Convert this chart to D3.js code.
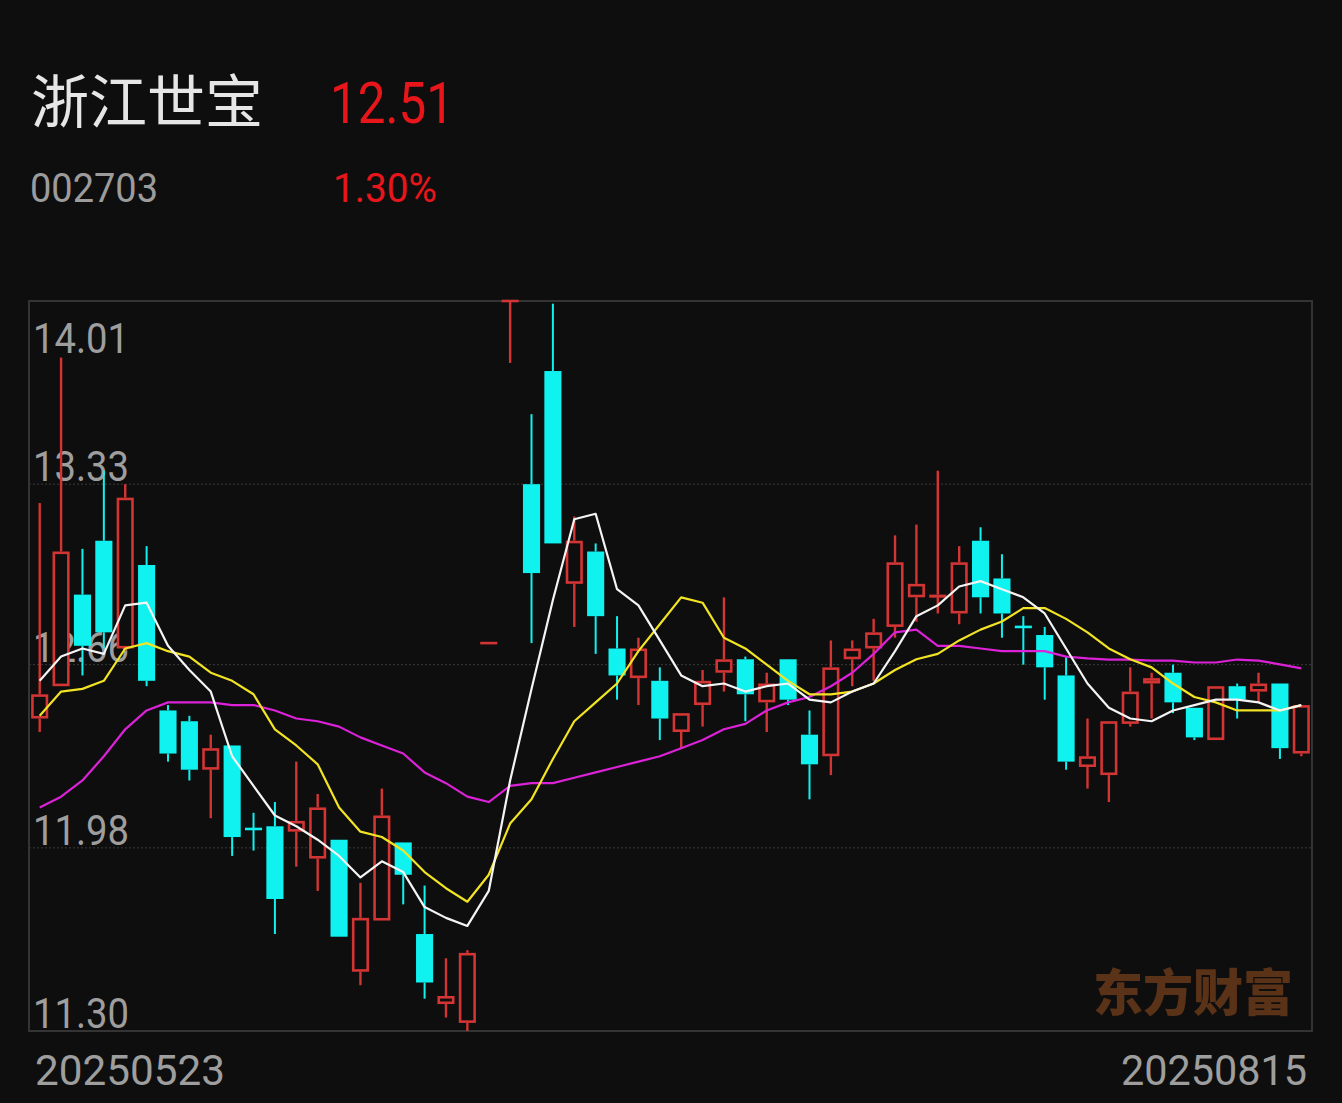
<!DOCTYPE html>
<html>
<head>
<meta charset="utf-8">
<script src="https://cdn.jsdelivr.net/npm/d3@7/dist/d3.min.js"></script>
<style>
  html, body { margin: 0; padding: 0; background: #0e0e0e; }
  svg { display: block; }
</style>
</head>
<body>
<svg id="chart" width="1342" height="1103"></svg>
<script>
// ---- data ----
const dates = [
  "20250523","20250526","20250527","20250528","20250529","20250530",
  "20250603","20250604","20250605","20250606","20250609","20250610","20250611","20250612","20250613",
  "20250616","20250617","20250618","20250619","20250620","20250623","20250624","20250625","20250626","20250627","20250630",
  "20250701","20250702","20250703","20250704","20250707","20250708","20250709","20250710","20250711",
  "20250714","20250715","20250716","20250717","20250718","20250721","20250722","20250723","20250724","20250725",
  "20250728","20250729","20250730","20250731",
  "20250801","20250804","20250805","20250806","20250807","20250808","20250811","20250812","20250813","20250814","20250815"
];
const openP  = [12.46,12.58,12.92,13.12,12.72,13.03,12.49,12.45,12.27,12.36,12.05,12.06,12.04,11.94,12.01,11.52,11.71,12.00,11.66,11.40,
                11.33,12.74,14.01,13.33,13.75,12.96,13.08,12.72,12.61,12.60,12.41,12.51,12.63,12.68,12.52,12.68,12.40,12.32,12.68,12.72,
                12.80,12.91,12.91,12.85,13.12,12.98,12.80,12.77,12.62,12.28,12.25,12.44,12.59,12.63,12.50,12.38,12.58,12.56,12.59,12.33];
const closeP = [12.55,13.08,12.73,12.78,13.28,12.60,12.33,12.27,12.35,12.02,12.05,11.79,12.08,12.13,11.65,11.72,12.10,11.88,11.48,11.43,
                11.59,12.74,14.01,13.00,13.11,13.12,12.84,12.62,12.72,12.46,12.48,12.60,12.68,12.55,12.59,12.53,12.29,12.65,12.72,12.78,
                13.04,12.96,12.92,13.04,12.91,12.85,12.80,12.65,12.30,12.32,12.45,12.56,12.61,12.52,12.39,12.58,12.53,12.59,12.35,12.51];
const highP  = [13.26,13.80,13.09,13.38,13.33,13.10,12.51,12.47,12.40,12.36,12.11,12.15,12.30,12.18,12.01,11.85,12.20,12.00,11.84,11.57,
                11.60,12.74,14.01,13.59,14.00,13.21,13.11,12.84,12.76,12.65,12.48,12.64,12.91,12.69,12.63,12.68,12.49,12.75,12.75,12.83,
                13.14,13.18,13.38,13.10,13.17,13.07,12.84,12.80,12.69,12.46,12.45,12.65,12.63,12.66,12.50,12.58,12.59,12.63,12.59,12.51];
const lowP   = [12.41,12.58,12.62,12.72,12.71,12.58,12.30,12.23,12.09,11.95,11.97,11.66,11.91,11.82,11.65,11.47,11.71,11.77,11.42,11.35,
                11.30,12.74,13.78,12.74,13.11,12.80,12.70,12.53,12.51,12.38,12.35,12.43,12.56,12.45,12.41,12.51,12.16,12.25,12.58,12.60,
                12.76,12.82,12.85,12.81,12.85,12.76,12.66,12.53,12.27,12.20,12.15,12.43,12.46,12.48,12.38,12.38,12.46,12.52,12.31,12.32];
const ma5  = [12.60,12.69,12.72,12.70,12.88,12.89,12.73,12.64,12.56,12.32,12.21,12.10,12.06,12.01,11.95,11.87,11.93,11.89,11.76,11.72,
              11.69,11.82,12.23,12.57,12.90,13.20,13.22,12.94,12.88,12.75,12.62,12.58,12.59,12.56,12.58,12.59,12.53,12.52,12.56,12.59,
              12.71,12.84,12.88,12.95,12.97,12.94,12.91,12.85,12.72,12.59,12.50,12.46,12.45,12.49,12.51,12.53,12.53,12.52,12.49,12.51];
const ma10 = [12.47,12.56,12.57,12.60,12.72,12.74,12.71,12.69,12.63,12.60,12.55,12.42,12.36,12.29,12.13,12.04,12.02,11.97,11.89,11.83,
              11.78,11.88,12.07,12.16,12.31,12.45,12.52,12.59,12.71,12.81,12.91,12.89,12.76,12.72,12.66,12.60,12.55,12.55,12.56,12.59,
              12.64,12.68,12.70,12.75,12.79,12.82,12.87,12.87,12.83,12.78,12.72,12.68,12.65,12.59,12.54,12.52,12.49,12.49,12.49,12.51];
const ma20 = [12.13,12.17,12.23,12.32,12.42,12.49,12.52,12.52,12.52,12.51,12.51,12.49,12.46,12.45,12.43,12.39,12.36,12.33,12.26,12.22,
              12.17,12.15,12.21,12.22,12.22,12.24,12.26,12.28,12.30,12.32,12.35,12.38,12.42,12.44,12.49,12.52,12.54,12.58,12.63,12.70,
              12.78,12.79,12.73,12.73,12.72,12.71,12.71,12.71,12.69,12.683,12.679,12.679,12.675,12.675,12.668,12.668,12.679,12.675,12.661,12.646];
const yTicks = [14.01, 13.33, 12.66, 11.98, 11.30];
const stockName = "浙江世宝";
const stockCode = "002703";
const lastPrice = "12.51";
const changePct = "1.30%";
const watermark = "东方财富";

// ---- layout ----
const W = 1342, H = 1103;
const plot = { left: 29, right: 1312, top: 301, bottom: 1031 };
const BG = "#0e0e0e";
const RED = "#d33434";
const CYAN = "#0ff2f0";

const svg = d3.select("#chart");
svg.append("rect").attr("width", W).attr("height", H).attr("fill", BG);

const x = d3.scaleBand().domain(dates).range([plot.left, plot.right]).paddingInner(0.2).paddingOuter(0.1);
const y = d3.scaleLinear().domain([yTicks[yTicks.length - 1], yTicks[0]]).range([plot.bottom, plot.top]);
const cx = d => x(d) + x.bandwidth() / 2;

// header
svg.append("text").attr("x", 31).attr("y", 123)
  .attr("font-family", "'Noto Sans CJK SC', sans-serif").attr("font-size", 58)
  .attr("fill", "#e6e6e6").text(stockName);
svg.append("text").attr("x", 330).attr("y", 123)
  .attr("font-family", "Roboto, sans-serif").attr("font-size", 57)
  .attr("textLength", 124).attr("lengthAdjust", "spacingAndGlyphs")
  .attr("fill", "#e8161b").text(lastPrice);
svg.append("text").attr("x", 30).attr("y", 202)
  .attr("font-family", "Roboto, sans-serif").attr("font-size", 41)
  .attr("textLength", 128).attr("lengthAdjust", "spacingAndGlyphs")
  .attr("fill", "#9c9c9c").text(stockCode);
svg.append("text").attr("x", 333).attr("y", 202)
  .attr("font-family", "Roboto, sans-serif").attr("font-size", 41)
  .attr("textLength", 104).attr("lengthAdjust", "spacingAndGlyphs")
  .attr("fill", "#e8161b").text(changePct);

// grid lines (inner ticks)
const g = svg.append("g");
g.selectAll("line.grid").data(yTicks.slice(1, -1)).enter().append("line")
  .attr("x1", plot.left).attr("x2", plot.right)
  .attr("y1", d => y(d)).attr("y2", d => y(d))
  .attr("stroke", "#3a3a3a").attr("stroke-width", 1).attr("stroke-dasharray", "2,2");

// frame
svg.append("rect").attr("x", plot.left).attr("y", plot.top)
  .attr("width", plot.right - plot.left).attr("height", plot.bottom - plot.top)
  .attr("fill", "none").attr("stroke", "#343434").attr("stroke-width", 2);

// watermark
svg.append("text").attr("x", 1093).attr("y", 1011)
  .attr("font-family", "'Noto Sans CJK SC', sans-serif").attr("font-weight", 900).attr("font-size", 50)
  .attr("fill", "#5a3217").text(watermark);

// y labels
svg.selectAll("text.ylab").data(yTicks).enter().append("text")
  .attr("x", 33)
  .attr("y", (d, i) => i === 0 ? y(d) + 52 : y(d) - 3)
  .attr("font-family", "Roboto, sans-serif").attr("font-size", 42)
  .attr("textLength", 96).attr("lengthAdjust", "spacingAndGlyphs")
  .attr("fill", "#9e9e9e").text(d => d.toFixed(2));

// x labels
svg.append("text").attr("x", 35).attr("y", 1085)
  .attr("font-family", "Roboto, sans-serif").attr("font-size", 42)
  .attr("textLength", 190).attr("lengthAdjust", "spacingAndGlyphs")
  .attr("fill", "#9e9e9e").text(dates[0]);
svg.append("text").attr("x", 1307).attr("y", 1085).attr("text-anchor", "end")
  .attr("font-family", "Roboto, sans-serif").attr("font-size", 42)
  .attr("textLength", 186).attr("lengthAdjust", "spacingAndGlyphs")
  .attr("fill", "#9e9e9e").text(dates[dates.length - 1]);

// candles
const candles = dates.map((d, i) => ({ d, o: openP[i], c: closeP[i], h: highP[i], l: lowP[i] }));
const cg = svg.append("g");
const bw = x.bandwidth();
const sw = 2.6;
candles.forEach(k => {
  const up = k.c >= k.o && !(k.c === k.o && false);
  const isUp = k.c > k.o || (k.c === k.o && (k.d === dates[21] || k.d === dates[22]));
  const col = isUp ? RED : CYAN;
  const top = y(Math.max(k.o, k.c)), bot = y(Math.min(k.o, k.c));
  const xc = cx(k.d);
  const ww = isUp ? 2.4 : 2;
  if (y(k.h) < top) cg.append("line").attr("x1", xc).attr("x2", xc).attr("y1", y(k.h)).attr("y2", top).attr("stroke", col).attr("stroke-width", ww);
  if (y(k.l) > bot) cg.append("line").attr("x1", xc).attr("x2", xc).attr("y1", bot).attr("y2", y(k.l)).attr("stroke", col).attr("stroke-width", ww);
  if (bot - top < 2) {
    cg.append("line").attr("x1", x(k.d)).attr("x2", x(k.d) + bw).attr("y1", (top + bot) / 2).attr("y2", (top + bot) / 2)
      .attr("stroke", col).attr("stroke-width", 2.6);
  } else if (isUp) {
    cg.append("rect").attr("x", x(k.d) + sw / 2).attr("y", top + sw / 2)
      .attr("width", bw - sw).attr("height", Math.max(0.5, bot - top - sw))
      .attr("fill", BG).attr("stroke", col).attr("stroke-width", sw);
  } else {
    cg.append("rect").attr("x", x(k.d)).attr("y", top).attr("width", bw).attr("height", bot - top).attr("fill", col);
  }
});

// moving averages
const line = d3.line().x((v, i) => cx(dates[i])).y(v => y(v));
[[ma20, "#dc22d8"], [ma10, "#f2e424"], [ma5, "#f4f4f4"]].forEach(([arr, col]) => {
  svg.append("path").attr("d", line(arr)).attr("fill", "none").attr("stroke", col).attr("stroke-width", 2.2)
    .attr("stroke-linejoin", "round");
});
</script>
</body>
</html>
